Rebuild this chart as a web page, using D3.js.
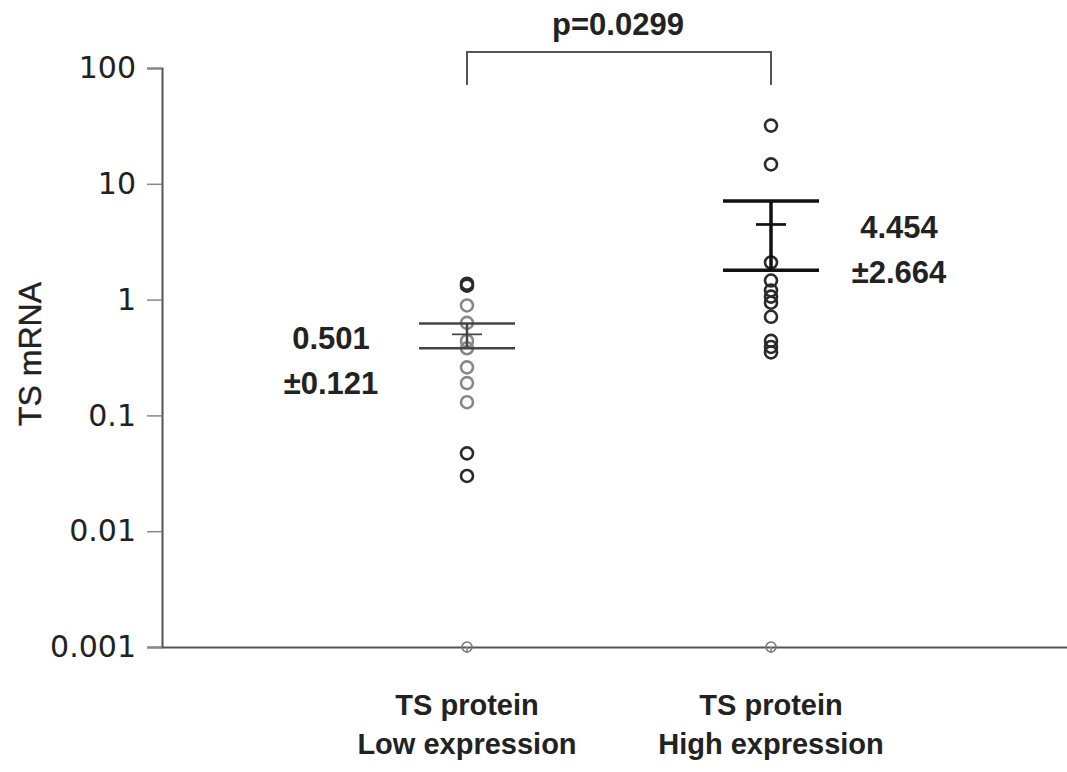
<!DOCTYPE html>
<html>
<head>
<meta charset="utf-8">
<script src="https://cdn.jsdelivr.net/npm/d3@7"></script>
<style>
  body { margin: 0; background: #fff; }
  text { font-family: "Liberation Sans", Arial, sans-serif; fill: #222; }
  .tick text { font-family: "DejaVu Sans", sans-serif; }
</style>
</head>
<body>
<svg id="chart" width="1067" height="772"></svg>
<script>
// groups and values (0 plotted on the 0.001 floor)
const groups = ["low", "high"];
const groupLabels = [["TS protein", "Low expression"], ["TS protein", "High expression"]];
const lowValues = [1.37, 1.32, 0.89, 0.63, 0.44, 0.38, 0.26, 0.19, 0.13, 0.047, 0.03];
const highValues = [31.8, 14.7, 2.09, 1.46, 1.2, 1.06, 0.94, 0.71, 0.44, 0.39, 0.35];
const zeroValues = [0.001, 0.001];
const means = [0.501, 4.454];
const errors = [0.121, 2.664];
const meanLabels = [["0.501", "\u00b10.121"], ["4.454", "\u00b12.664"]];
const yTicks = [100, 10, 1, 0.1, 0.01, 0.001];
const pLabel = "p=0.0299";

const svg = d3.select("#chart");
const margin = {left: 162, right: 0, top: 68, bottom: 125};
const W = 1067, H = 772;

const y = d3.scaleLog().domain([0.001, 100]).range([H - margin.bottom, margin.top]);
const x = d3.scalePoint().domain(groups).range([467, 771]);

// y axis
const yAxis = svg.append("g")
  .attr("transform", `translate(${margin.left},0)`)
  .call(d3.axisLeft(y).tickValues(yTicks).tickFormat(d => d >= 1 ? d3.format("d")(d) : String(d)).tickSize(15).tickPadding(11));
yAxis.select(".domain").attr("stroke", "#555").attr("stroke-width", 2);
yAxis.selectAll(".tick line").attr("stroke", "#888").attr("stroke-width", 1.5);
yAxis.selectAll(".tick text").attr("font-size", 30).style("fill", "#222");

// x axis line
const xAxis = svg.append("g")
  .attr("transform", `translate(0,${y(0.001)})`)
  .call(d3.axisBottom(d3.scaleLinear().domain([0, 1]).range([margin.left, W])).tickValues([]).tickSizeOuter(0));
xAxis.select(".domain").attr("stroke", "#555").attr("stroke-width", 2);
svg.selectAll("line.xt").data(groups).join("line").attr("class", "xt")
  .attr("x1", d => x(d)).attr("x2", d => x(d))
  .attr("y1", y(0.001)).attr("y2", y(0.001) + 6)
  .attr("stroke", "#888").attr("stroke-width", 1.5);

// y title
svg.append("text")
  .attr("transform", `translate(41,354) rotate(-90)`)
  .attr("text-anchor", "middle")
  .attr("font-size", 32)
  .attr("stroke", "#222").attr("stroke-width", 0.4)
  .text("TS mRNA");

// x labels
groups.forEach((g, i) => {
  groupLabels[i].forEach((line, j) => {
    svg.append("text")
      .attr("x", x(g)).attr("y", 715 + j * 39)
      .attr("text-anchor", "middle")
      .attr("font-size", 29).attr("font-weight", "bold")
      .text(line);
  });
});

// points
const pts = [
  ...lowValues.map(v => ({g: "low", v})),
  ...highValues.map(v => ({g: "high", v}))
];
svg.append("g").selectAll("circle").data(pts).join("circle")
  .attr("cx", d => x(d.g))
  .attr("cy", d => y(d.v))
  .attr("r", 6)
  .attr("fill", "none")
  .attr("stroke", d => d.g === "low" && d.v < 1 && d.v > 0.1 ? "#888" : "#2a2a2a")
  .attr("stroke-width", 2.6);

svg.append("g").selectAll("circle").data(zeroValues).join("circle")
  .attr("cx", (d, i) => x(groups[i]))
  .attr("cy", d => y(d))
  .attr("r", 5)
  .attr("fill", "none")
  .attr("stroke", "#777")
  .attr("stroke-width", 1.6);

// mean +/- error bars
groups.forEach((g, i) => {
  const cx = x(g);
  const hi = means[i] + errors[i], lo = means[i] - errors[i];
  const col = i === 0 ? "#444" : "#111";
  const sw = i === 0 ? 2.5 : 3.5;
  const grp = svg.append("g").attr("stroke", col).attr("stroke-width", sw);
  grp.append("line").attr("x1", cx).attr("x2", cx).attr("y1", y(hi)).attr("y2", y(lo));
  [hi, lo].forEach(v => {
    grp.append("line").attr("x1", cx - 48).attr("x2", cx + 48).attr("y1", y(v)).attr("y2", y(v));
  });
  grp.append("line").attr("x1", cx - 15).attr("x2", cx + 15).attr("y1", y(means[i])).attr("y2", y(means[i]))
    .attr("stroke-width", sw - 0.8);
});

// mean labels
const labelPos = [{x: 331, y: 349}, {x: 899, y: 238}];
meanLabels.forEach((lines, i) => {
  lines.forEach((t, j) => {
    svg.append("text")
      .attr("x", labelPos[i].x).attr("y", labelPos[i].y + j * 45)
      .attr("text-anchor", "middle")
      .attr("font-size", 31).attr("font-weight", "bold")
      .text(t);
  });
});

// significance bracket
const by = 52, bBottom = 85;
svg.append("path")
  .attr("d", `M${x("low")},${bBottom}V${by}H${x("high")}V${bBottom}`)
  .attr("fill", "none").attr("stroke", "#555").attr("stroke-width", 2);
svg.append("text")
  .attr("x", 618).attr("y", 35)
  .attr("text-anchor", "middle")
  .attr("font-size", 31).attr("font-weight", "bold")
  .text(pLabel);
</script>
</body>
</html>
